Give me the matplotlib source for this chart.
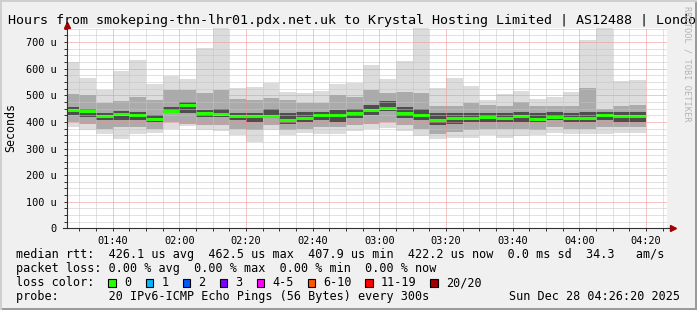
import numpy as np
import matplotlib.pyplot as plt
from matplotlib.patches import Rectangle

W, H = 697, 310
MONO = 'DejaVu Sans Mono'

# bar start times, minutes after midnight (01:25 ... 04:15), 5 minute steps
step_start = np.arange(85, 260, 5)

# median rtt per step (us)
med = np.array([445, 441, 422, 430, 427, 411, 441, 462.5, 434, 430, 422, 422,
                422, 409, 415, 425, 425, 434, 445, 453, 434, 425, 407.9, 415,
                415, 419, 415, 423, 411, 419, 415, 415, 426, 422, 422.2])
# smoke: min / max ping and inner spreads
minv = np.array([381, 368, 353, 337, 354, 360, 373, 383, 368, 365, 350, 325,
                 368, 350, 360, 356, 356, 366, 372, 378, 366, 347, 334, 341,
                 341, 351, 341, 347, 350, 357, 353, 356, 353, 360, 360])
maxv = np.array([624, 567, 519, 592, 632, 541, 571, 561, 679, 800, 526, 531,
                 545, 514, 510, 517, 541, 546, 613, 560, 628, 800, 526, 567,
                 534, 482, 504, 517, 487, 494, 513, 708, 800, 553, 559])
p10 = np.array([400, 394, 375, 381, 381, 375, 400, 394, 388, 388, 375, 369,
                388, 369, 375, 381, 381, 388, 394, 400, 388, 375, 356, 363,
                369, 375, 375, 375, 369, 381, 375, 375, 381, 381, 381])
p90 = np.array([505, 500, 470, 480, 494, 482, 520, 519, 507, 519, 488, 482,
                490, 482, 470, 470, 500, 494, 519, 507, 513, 507, 460, 460,
                470, 465, 460, 476, 460, 460, 460, 526, 450, 460, 463])
p25 = np.array([425, 419, 406, 406, 406, 400, 432, 432, 419, 419, 406, 400,
                413, 394, 400, 406, 400, 413, 425, 440, 413, 406, 388, 394,
                400, 400, 400, 400, 400, 406, 400, 400, 406, 400, 400])
p75 = np.array([457, 450, 432, 440, 438, 425, 457, 475, 444, 450, 432, 435,
                450, 432, 438, 438, 444, 450, 463, 480, 457, 450, 432, 432,
                432, 432, 432, 438, 432, 438, 432, 438, 438, 438, 438])

title = "Hours from smokeping-thn-lhr01.pdx.net.uk to Krystal Hosting Limited | AS12488 | London"
loss_labels = ['0', '1', '2', '3', '4-5', '6-10', '11-19', '20/20']
loss_colors = ['#26ff00', '#00b8ff', '#0059ff', '#7e00ff', '#ff00ff', '#ff5500', '#ff0000', '#a10000']


def fx(x):
    return x / W


def fy(y):
    return 1 - y / H


fig = plt.figure(figsize=(W / 100, H / 100), dpi=100, facecolor='#f0f0f0')

# frame
fig.add_artist(Rectangle((0, 0), 1, 2 / H, transform=fig.transFigure, color='#9a9a9a', lw=0))
fig.add_artist(Rectangle((1 - 2 / W, 0), 2 / W, 1, transform=fig.transFigure, color='#9a9a9a', lw=0))
fig.add_artist(Rectangle((0, 1 - 2 / H), 1, 2 / H, transform=fig.transFigure, color='#cfcfcf', lw=0))
fig.add_artist(Rectangle((0, 0), 2 / W, 1, transform=fig.transFigure, color='#cfcfcf', lw=0))

ax = fig.add_axes([fx(67), fy(228.3), fx(600), 200 / H])
ax.set_facecolor('white')
ax.set_xlim(86 + 1 / 3, 266 + 1 / 3)
ax.set_ylim(0, 752)
for s in ax.spines.values():
    s.set_visible(False)

# smoke
ax.bar(step_start, maxv - minv, bottom=minv, width=5, align='edge', color='#dcdcdc', lw=0, zorder=1)
ax.bar(step_start, p90 - p10, bottom=p10, width=5, align='edge', color='#ababab', lw=0, zorder=2)
ax.bar(step_start, p75 - p25, bottom=p25, width=5, align='edge', color='#4e4e4e', lw=0, zorder=3)
ax.hlines(med, step_start, step_start + 5, colors='#26ff00', lw=2.2, zorder=4)

# grid (drawn on top, like rrdtool)
dot = (0, (1, 1))
for v in np.arange(25, 752, 25):
    major = v % 100 == 0
    ax.axhline(v, color='#ee8f8f' if major else '#c4c4c4', lw=0.72, ls=dot, zorder=5)
for m in np.arange(90, 267, 5):
    major = m % 20 == 0
    ax.axvline(m, color='#ee8f8f' if major else '#c4c4c4', lw=0.72, ls=dot, zorder=5)

# axes with arrows
ax.plot([86 + 1 / 3, 86 + 1 / 3], [0, 765], color='#303030', lw=0.8, clip_on=False, zorder=6)
ax.plot([85.2, 267.3], [0, 0], color='#303030', lw=0.8, clip_on=False, zorder=6)
ax.plot([86 + 1 / 3], [766], marker='^', ms=4.5, color='#a00000', mec='#a00000', clip_on=False, zorder=7)
ax.plot([268], [0], marker='>', ms=4.5, color='#a00000', mec='#a00000', clip_on=False, zorder=7)

yt = np.arange(0, 701, 100)
ax.set_yticks(yt)
ax.set_yticklabels(['0'] + [f'{v} u' for v in yt[1:]])
ax.set_yticks(np.arange(25, 752, 25), minor=True)
xt = np.arange(100, 261, 20)
ax.set_xticks(xt)
ax.set_xticklabels([f'{m // 60:02d}:{m % 60:02d}' for m in xt])
ax.set_xticks(np.arange(90, 266, 5), minor=True)
ax.tick_params(which='both', length=2, width=0.7, color='#303030', labelsize=7.4)
ax.tick_params(axis='y', pad=5.5)
ax.tick_params(axis='x', pad=3.5)
for lab in ax.get_xticklabels() + ax.get_yticklabels():
    lab.set_family(MONO)

fig.text(fx(11), fy(127), 'Seconds', rotation=90, ha='center', va='center', family=MONO, fontsize=8.4)
fig.text(fx(8), fy(24), title, ha='left', va='baseline', family=MONO, fontsize=9.6)
fig.text(fx(687.5), fy(6), 'RRDTOOL / TOBI OETIKER', rotation=270, ha='center', va='top',
         family=MONO, fontsize=6.2, color='#b4b4b4')

# legend
lf = dict(ha='left', va='baseline', family=MONO, fontsize=8.5)
fig.text(fx(16), fy(258), 'median rtt:  426.1 us avg  462.5 us max  407.9 us min  422.2 us now  0.0 ms sd  34.3   am/s', **lf)
fig.text(fx(16), fy(272), 'packet loss: 0.00 % avg  0.00 % max  0.00 % min  0.00 % now', **lf)
fig.text(fx(16), fy(286), 'loss color:', **lf)
lx = [124, 161.5, 198.5, 235.5, 272.5, 323.5, 381, 446]
for x, lab, c in zip(lx, loss_labels, loss_colors):
    fig.add_artist(Rectangle((fx(x - 16), fy(286.5)), fx(7.5), 7.5 / H, transform=fig.transFigure,
                             facecolor=c, edgecolor='black', lw=0.8))
    fig.text(fx(x), fy(286), lab, **lf)
fig.text(fx(16), fy(300), 'probe:       20 IPv6-ICMP Echo Pings (56 Bytes) every 300s', **lf)
fig.text(fx(680), fy(300), 'Sun Dec 28 04:26:20 2025', ha='right', va='baseline', family=MONO, fontsize=8.5)

fig.savefig('out.png', dpi=100, facecolor=fig.get_facecolor())
